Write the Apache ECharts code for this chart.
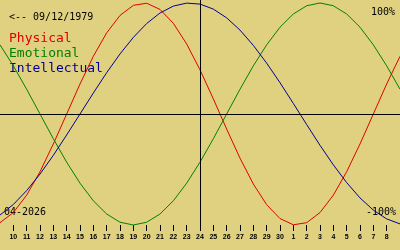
<!DOCTYPE html>
<html>
<head>
<meta charset="utf-8">
<script src="https://cdn.jsdelivr.net/npm/echarts@6/dist/echarts.min.js"></script>
<style>
html,body{margin:0;padding:0;background:#E0D181;}
#chart{width:400px;height:250px;}
</style>
</head>
<body>
<div id="chart"></div>
<script>
// Day labels (April 9 2026 .. May 9 2026), centre day = 24
const days = ['9','10','11','12','13','14','15','16','17','18','19','20','21','22','23','24','25','26','27','28','29','30','1','2','3','4','5','6','7','8','9'];
const centerDay = '24';
const physical = [-0.979,-0.888,-0.731,-0.520,-0.270,0,0.270,0.520,0.731,0.888,0.979,0.998,0.942,0.817,0.631,0.398,0.136,-0.136,-0.398,-0.631,-0.817,-0.942,-0.998,-0.979,-0.888,-0.731,-0.520,-0.270,0,0.270,0.520];
const emotional = [0.623,0.434,0.223,0,-0.223,-0.434,-0.623,-0.782,-0.901,-0.975,-1,-0.975,-0.901,-0.782,-0.623,-0.434,-0.223,0,0.223,0.434,0.623,0.782,0.901,0.975,1,0.975,0.901,0.782,0.623,0.434,0.223];
const intellectual = [-0.910,-0.815,-0.690,-0.541,-0.372,-0.189,0,0.189,0.372,0.541,0.690,0.815,0.910,0.972,0.999,0.990,0.945,0.866,0.756,0.618,0.458,0.282,0.095,-0.095,-0.282,-0.458,-0.618,-0.756,-0.866,-0.945,-0.990];
const birthText = '<-- 09/12/1979';
const monthText = '04-2026';
const legendNames = ['Physical','Emotional','Intellectual'];
const colors = ['#DD0000','#008000','#000090'];

const chart = echarts.init(document.getElementById('chart'), null, {renderer:'canvas'});
const mono = "'DejaVu Sans Mono', monospace";
function line(name, data, color, extra) {
  return Object.assign({
    name: name, type: 'line', data: data, showSymbol: false, smooth: false,
    lineStyle: {color: color, width: 1}, itemStyle: {color: color}, z: 3, animation: false
  }, extra || {});
}
chart.setOption({
  backgroundColor: '#E0D181',
  animation: false,
  grid: {left: 0, right: 0, top: 0, bottom: 20, containLabel: false, outerBoundsMode: 'none'},
  xAxis: {
    type: 'category', data: days, boundaryGap: false, offset: -5,
    axisLine: {show: false, onZero: false},
    axisTick: {show: true, length: 6, inside: false, lineStyle: {color: '#000', width: 1},
      interval: function (i) { return i !== 0 && i !== days.length - 1; }},
    axisLabel: {interval: 0, margin: 9, fontSize: 7, fontWeight: 'bold', fontFamily: 'Liberation Sans', color: '#000',
      formatter: function (v, i) { return (i === 0 || i === days.length - 1) ? '' : v; }},
    splitLine: {show: false}
  },
  yAxis: {type: 'value', min: -1.045, max: 1.027, show: false},
  series: [
    {type: 'line', data: [], z: 1, markLine: {silent: true, symbol: 'none', animation: false,
      label: {show: false}, lineStyle: {color: '#000', width: 1, type: 'solid'},
      data: [{xAxis: centerDay}, {yAxis: 0}]}},
    line(legendNames[0], physical, colors[0]),
    line(legendNames[1], emotional, colors[1]),
    line(legendNames[2], intellectual, colors[2])
  ],
  graphic: [
    {type: 'text', left: 9, top: 12, style: {text: birthText, font: '10px ' + mono, fill: '#000'}},
    {type: 'text', left: 9, top: 32, style: {text: legendNames[0], font: '13px ' + mono, fill: colors[0]}},
    {type: 'text', left: 9, top: 47, style: {text: legendNames[1], font: '13px ' + mono, fill: colors[1]}},
    {type: 'text', left: 9, top: 62, style: {text: legendNames[2], font: '13px ' + mono, fill: colors[2]}},
    {type: 'text', right: 5, top: 7, style: {text: '100%', font: '10px ' + mono, fill: '#000'}},
    {type: 'text', right: 4, top: 207, style: {text: '-100%', font: '10px ' + mono, fill: '#000'}},
    {type: 'text', left: 4, top: 207, style: {text: monthText, font: '10px ' + mono, fill: '#000'}}
  ]
});
</script>
</body>
</html>
